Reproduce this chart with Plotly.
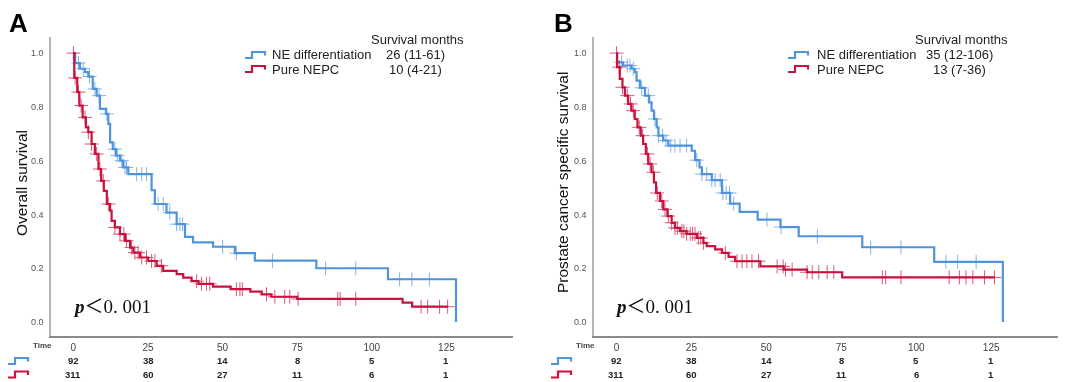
import plotly.graph_objects as go

# ---------------- data ----------------
risk_times = [0, 25, 50, 75, 100, 125]
tick_labels = ["0", "25", "50", "75", "100", "125"]
y_ticks = [0.0, 0.2, 0.4, 0.6, 0.8, 1.0]
y_tick_labels = ["0.0", "0.2", "0.4", "0.6", "0.8", "1.0"]

groups = ["NE differentiation", "Pure NEPC"]

# Panel A: overall survival
a_ne_t = [0, 0.6, 2.2, 3.9, 5.0, 6.5, 7.8, 8.9, 10.9, 11.7, 12.3, 13.2, 14.3, 15.6, 16.7, 18.4,
          26.2, 27.3, 31.2, 34.6, 37.4, 40.1, 46.8, 54.1, 60.8, 81.4, 105.4, 128.2]
a_ne_s = [1.0, 0.963, 0.942, 0.929, 0.913, 0.867, 0.842, 0.793, 0.774, 0.737, 0.668, 0.643, 0.619,
          0.600, 0.575, 0.550, 0.490, 0.439, 0.407, 0.364, 0.317, 0.296, 0.280, 0.256, 0.228,
          0.200, 0.159, 0.0]
a_ne_cens = [1.7, 3.3, 5.4, 7.2, 8.6, 11.2, 13.9, 14.7, 16.2, 17.3, 17.8, 21.2, 22.9, 24.5, 28.4,
             30.1, 32.3, 34.6, 35.7, 36.6, 50.0, 54.6, 66.7, 84.5, 94.6, 109.3, 113.4, 119.3]

a_pu_t = [0, 0.3, 1.3, 2.0, 3.1, 4.2, 5.0, 6.1, 7.2, 8.4, 9.3, 10.2, 11.2, 12.3, 12.8, 13.9, 15.6,
          17.3, 19.0, 20.1, 22.3, 25.1, 27.9, 30.1, 34.6, 36.8, 39.6, 41.9, 46.8, 52.7, 59.3, 63.1,
          66.3, 75.0, 110.3, 113.5]
a_pu_s = [1.0, 0.908, 0.855, 0.805, 0.761, 0.724, 0.706, 0.662, 0.625, 0.569, 0.525, 0.488, 0.439,
          0.414, 0.376, 0.352, 0.327, 0.302, 0.277, 0.258, 0.240, 0.227, 0.209, 0.190, 0.178,
          0.165, 0.152, 0.142, 0.132, 0.122, 0.113, 0.103, 0.094, 0.086, 0.072, 0.057]
a_pu_end = 125.5
a_pu_cens = [0, 0.6, 1.7, 2.6, 3.9, 5.0, 6.1, 7.8, 8.9, 10.0, 11.7, 13.9, 15.6, 16.9, 17.8, 19.5,
             20.6, 21.7, 22.9, 24.5, 26.2, 27.3, 29.5, 41.3, 42.9, 44.6, 45.7, 54.6, 55.8, 56.6,
             64.7, 67.5, 70.8, 72.5, 75.3, 88.6, 89.4, 94.6, 116.5, 118.7, 122.7, 125.4]

# Panel B: prostate cancer specific survival
b_ne_t = [0, 0.2, 2.2, 5.0, 6.1, 6.7, 7.8, 9.5, 10.9, 11.7, 12.5, 13.4, 14.0, 15.6, 17.3, 25.1,
          26.2, 27.7, 28.5, 31.8, 35.2, 37.9, 41.1, 47.1, 54.7, 60.8, 82.0, 106.0, 128.9]
b_ne_s = [1.0, 0.966, 0.954, 0.942, 0.929, 0.898, 0.871, 0.842, 0.817, 0.786, 0.755, 0.724, 0.693,
          0.675, 0.656, 0.637, 0.602, 0.575, 0.550, 0.528, 0.480, 0.440, 0.410, 0.381, 0.353,
          0.319, 0.278, 0.224, 0.0]
b_ne_cens = [1.7, 3.6, 4.5, 5.6, 8.4, 10.6, 12.8, 14.0, 15.4, 16.5, 18.1, 19.5, 21.2, 23.4, 26.8,
             28.5, 30.1, 31.8, 32.9, 34.6, 35.5, 36.6, 37.7, 39.1, 50.2, 54.9, 67.0, 84.8, 94.9,
             109.9, 113.8, 120.0]

b_pu_t = [0, 0.2, 1.1, 2.0, 2.8, 3.9, 5.0, 6.1, 7.0, 8.1, 8.9, 9.8, 10.6, 11.7, 12.5, 13.2, 14.5,
          15.6, 17.0, 18.4, 19.5, 21.2, 23.4, 26.8, 29.0, 30.1, 32.9, 35.2, 37.4, 39.6, 48.0, 55.8,
          63.6, 75.3]
b_pu_s = [1.0, 0.948, 0.904, 0.873, 0.842, 0.811, 0.786, 0.755, 0.724, 0.693, 0.662, 0.625, 0.588,
          0.557, 0.519, 0.480, 0.450, 0.419, 0.394, 0.369, 0.350, 0.338, 0.328, 0.313, 0.294,
          0.282, 0.270, 0.257, 0.242, 0.226, 0.207, 0.195, 0.185, 0.166]
b_pu_end = 126.1
b_pu_cens = [0, 0.9, 2.0, 3.6, 4.7, 5.6, 7.6, 8.7, 10.3, 11.2, 12.3, 13.6, 15.1, 16.2, 17.3, 18.4,
             19.5, 20.3, 21.8, 22.5, 23.4, 24.6, 25.4, 26.2, 27.3, 28.1, 29.0, 36.3, 40.2, 41.9,
             43.5, 45.2, 47.4, 53.6, 55.6, 56.4, 58.6, 63.6, 65.3, 67.5, 70.3, 72.5, 88.7, 89.8,
             94.9, 111.0, 114.4, 116.6, 118.9, 122.8, 126.1]

risk_ne = [92, 38, 14, 8, 5, 1]
risk_pure = [311, 60, 27, 11, 6, 1]

medians_a = ["26 (11-61)", "10 (4-21)"]
medians_b = ["35 (12-106)", "13 (7-36)"]
y_titles = ["Overall survival", "Prostate cancer specific survival"]
panel_letters = ["A", "B"]

# ---------------- styling ----------------
BLUE = "#4f94dc"
RED = "#c9123f"
FONT = "Liberation Sans, Arial, sans-serif"
W, H = 1080, 382
TOP, BOT = 37, 336          # plot-area pixel rows
XR = [-7.5, 147.3]
YR = [-0.052, 1.06]


def px_x(x):
    return x / W


def px_y(y):
    return (BOT - y) / (BOT - TOP)


def surv_at(ts, ss, t):
    val = ss[0]
    for ti, si in zip(ts, ss):
        if ti <= t:
            val = si
        else:
            break
    return val


fig = go.Figure()

panels = [
    dict(xa="x", ya="y", ne=(a_ne_t, a_ne_s, None, a_ne_cens), pu=(a_pu_t, a_pu_s, a_pu_end, a_pu_cens),
         med=medians_a),
    dict(xa="x2", ya="y2", ne=(b_ne_t, b_ne_s, None, b_ne_cens), pu=(b_pu_t, b_pu_s, b_pu_end, b_pu_cens),
         med=medians_b),
]

for p in panels:
    for key, col in (("ne", BLUE), ("pu", RED)):
        ts, ss, end, cens = p[key]
        xs = list(ts) + ([end] if end is not None else [])
        ys = list(ss) + ([ss[-1]] if end is not None else [])
        fig.add_trace(go.Scatter(x=xs, y=ys, mode="lines", line=dict(color=col, width=2.2, shape="hv"),
                                 xaxis=p["xa"], yaxis=p["ya"], showlegend=False, hoverinfo="skip"))
        fig.add_trace(go.Scatter(x=cens, y=[surv_at(ts, ss, c) for c in cens], mode="markers",
                                 marker=dict(symbol="cross-thin", size=10, color=col,
                                             line=dict(color=col, width=1)),
                                 opacity=0.7, xaxis=p["xa"], yaxis=p["ya"], showlegend=False,
                                 hoverinfo="skip"))

axis_x = dict(range=XR, tickvals=risk_times, ticktext=tick_labels, showgrid=False, zeroline=False,
              showline=True, linecolor="#8a8a8a", linewidth=1.5, ticks="outside", ticklen=1,
              tickcolor="rgba(0,0,0,0)", tickfont=dict(family=FONT, size=10, color="#444"))
axis_y = dict(range=YR, tickvals=y_ticks, ticktext=y_tick_labels, showgrid=False, zeroline=False,
              showline=True, linecolor="#b5b5b5", linewidth=1.5, ticks="outside", ticklen=4,
              tickcolor="rgba(0,0,0,0)", tickfont=dict(family=FONT, size=9, color="#555"))

fig.update_layout(
    width=W, height=H, margin=dict(l=0, r=0, t=TOP, b=H - BOT),
    paper_bgcolor="white", plot_bgcolor="white",
    xaxis=dict(domain=[51 / W, 513 / W], anchor="y", **axis_x),
    yaxis=dict(domain=[0, 1], anchor="x", **axis_y),
    xaxis2=dict(domain=[594 / W, 1058 / W], anchor="y2", **axis_x),
    yaxis2=dict(domain=[0, 1], anchor="x2", **axis_y),
)

ann = []
shapes = []


def text(t, x, y, size, color="#222", family=FONT, xanchor="center", xref="paper", angle=0):
    ann.append(dict(text=t, x=x, y=y, xref=xref, yref="paper", xanchor=xanchor, yanchor="middle",
                    showarrow=False, textangle=angle, font=dict(family=family, size=size, color=color)))


def glyph(x0, yc, col, w=20, h=6):
    xa, xb = px_x(x0), px_x(x0 + w)
    xm = px_x(x0 + w * 0.35)
    yb, yt = px_y(yc + h / 2), px_y(yc - h / 2)
    ymid = px_y(yc + h * 0.1)
    path = f"M {xa},{yb} L {xm},{yb} L {xm},{yt} L {xb},{yt} L {xb},{ymid}"
    shapes.append(dict(type="path", path=path, xref="paper", yref="paper",
                       line=dict(color=col, width=2.2)))


letter_x = [18, 563]
ylab_x = [21, 562]
legend_x = [270, 815]
value_x = [415, 959]
glyph_x = [245, 788]
p_x = [71, 613]
time_x = [42, 585]
risk_glyph_x = [8, 551]

for i, p in enumerate(panels):
    text(f"<b>{panel_letters[i]}</b>", px_x(letter_x[i]), px_y(23), 26, "#000")
    text(y_titles[i], px_x(ylab_x[i]), px_y(183), 15.5, "#111", angle=-90)
    text("Survival months", px_x(value_x[i] + 2), px_y(39), 13)
    for j, (g, col, yy) in enumerate(zip(groups, (BLUE, RED), (55, 69))):
        text(g, px_x(legend_x[i]), px_y(yy), 13, xanchor="left")
        text(p["med"][j], px_x(value_x[i]), px_y(yy), 13)
        glyph(glyph_x[i], yy, col)
    text("<b><i>p</i></b>＜0. 001", px_x(p_x[i]), px_y(306), 19, "#111",
         family="Liberation Serif, Noto Sans CJK SC, serif", xanchor="left")
    text("<b>Time</b>", px_x(time_x[i]), px_y(345), 8, "#444")
    for t, n1, n2 in zip(risk_times, risk_ne, risk_pure):
        text(f"<b>{n1}</b>", t, px_y(360), 9.5, xref=p["xa"])
        text(f"<b>{n2}</b>", t, px_y(374), 9.5, xref=p["xa"])
    glyph(risk_glyph_x[i], 361, BLUE)
    glyph(risk_glyph_x[i], 374.5, RED)

fig.update_layout(annotations=ann, shapes=shapes)

fig.write_html("out.html", config={"displayModeBar": False},
               post_script="document.body.style.margin='0';")
